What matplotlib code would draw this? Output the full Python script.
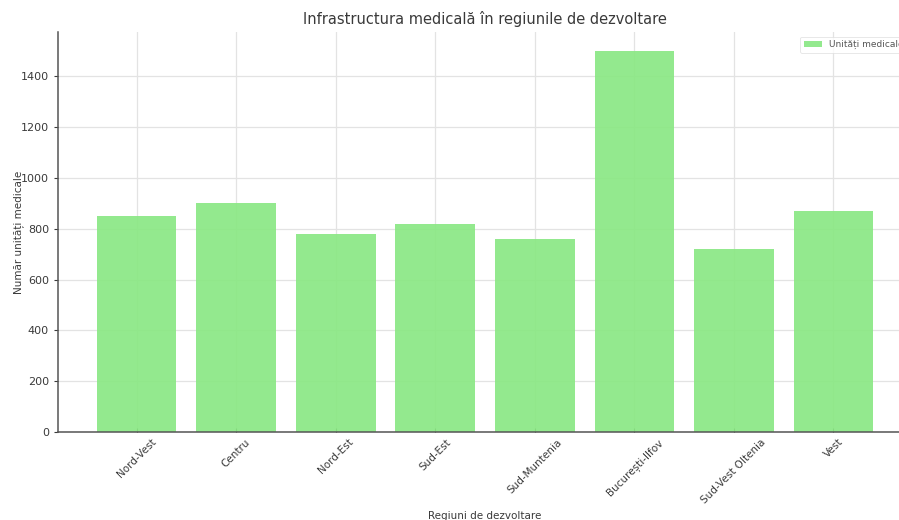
import matplotlib
matplotlib.use("Agg")
import matplotlib.pyplot as plt

regions = ["Nord-Vest", "Centru", "Nord-Est", "Sud-Est", "Sud-Muntenia",
           "București-Ilfov", "Sud-Vest Oltenia", "Vest"]
units = [850, 900, 780, 820, 760, 1500, 720, 870]

plt.rcParams["font.family"] = ["DejaVu Sans"]
text_color = "#3a3a3a"

fig = plt.figure(figsize=(8.99, 5.2), dpi=100)
ax = fig.add_axes([0.0645, 0.1692, 0.95, 0.7692])

ax.bar(regions, units, width=0.8, color="#8ae884", alpha=0.92,
       label="Unități medicale", zorder=2)

ax.grid(True, color="#e3e3e3", linewidth=0.9, zorder=1)
ax.set_axisbelow(True)

for side in ("top", "right"):
    ax.spines[side].set_visible(False)
for side in ("left", "bottom"):
    ax.spines[side].set_color("#555555")
    ax.spines[side].set_linewidth(1.1)

ax.set_title("Infrastructura medicală în regiunile de dezvoltare",
             fontsize=10.5, color=text_color, pad=6)
ax.set_xlabel("Regiuni de dezvoltare", fontsize=7.5, color=text_color, labelpad=4)
ax.set_ylabel("Număr unități medicale", fontsize=7.5, color=text_color, labelpad=-2)

ax.tick_params(axis="y", labelsize=8, colors=text_color, length=3)
ax.tick_params(axis="x", labelsize=7.5, colors=text_color, length=3, direction="in")
plt.setp(ax.get_xticklabels(), rotation=45, ha="center", rotation_mode="default")

leg = ax.legend(loc="upper right", fontsize=6.5, frameon=True,
                bbox_to_anchor=(1.0, 1.0))
leg.get_frame().set_edgecolor("#dddddd")
leg.get_frame().set_linewidth(0.6)
for t in leg.get_texts():
    t.set_color("#555555")

fig.savefig("out.png", dpi=100)
